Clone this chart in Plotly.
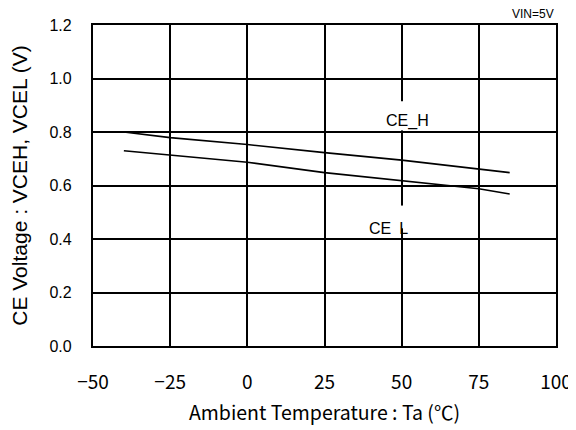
import plotly.graph_objects as go

# Data
temp_h = [-40, -25, 0, 10, 25, 50, 75, 85]
ce_h = [0.800, 0.779, 0.753, 0.740, 0.723, 0.695, 0.660, 0.648]
temp_l = [-40, -25, 0, 25, 50, 75, 85]
ce_l = [0.730, 0.713, 0.687, 0.648, 0.617, 0.588, 0.568]

x_ticks = [-50, -25, 0, 25, 50, 75, 100]
y_ticks = [0.0, 0.2, 0.4, 0.6, 0.8, 1.0, 1.2]

fig = go.Figure()
fig.add_trace(go.Scatter(x=temp_h, y=ce_h, mode="lines",
                         line=dict(color="black", width=1.6), name="CE_H",
                         showlegend=False))
fig.add_trace(go.Scatter(x=temp_l, y=ce_l, mode="lines",
                         line=dict(color="black", width=1.6), name="CE_L",
                         showlegend=False))

# white gaps in the 50 degC grid line behind the labels
fig.add_shape(type="rect", x0=48, x1=52, y0=0.806, y1=0.915,
              fillcolor="white", line=dict(width=0), layer="above")
fig.add_shape(type="rect", x0=48, x1=52, y0=0.44, y1=0.525,
              fillcolor="white", line=dict(width=0), layer="above")

lab_font = dict(family="Liberation Sans, Arial", size=16, color="black")
fig.add_annotation(x=50, y=0.842, text="CE_H", showarrow=False,
                   xanchor="center", yanchor="middle", xshift=6, font=lab_font)
fig.add_annotation(x=50, y=0.44, text="CE\u2002L", showarrow=False,
                   xanchor="center", yanchor="middle", xshift=-13, font=lab_font)
fig.add_annotation(xref="paper", yref="paper", x=1.0, y=1.0, yshift=2,
                   text="VIN=5V", showarrow=False, xanchor="right", yanchor="bottom",
                   font=dict(family="Liberation Sans, Arial", size=12, color="black"))

fig.update_xaxes(range=[-50, 100], tickvals=x_ticks,
                 ticktext=[str(v).replace("-", "\u2212") for v in x_ticks],
                 showgrid=True, gridcolor="black", gridwidth=1.5,
                 showline=True, linecolor="black", linewidth=2.2, mirror=True,
                 zeroline=False, ticks="", ticklabelstandoff=18, automargin=False,
                 tickfont=dict(family="Noto Sans CJK JP", size=19, color="black"),
                 title=dict(text="Ambient Temperature : Ta (\u2103)",
                            font=dict(family="Noto Sans CJK JP", size=19.5, color="black"),
                            standoff=13))
fig.update_yaxes(range=[0, 1.2], tickvals=y_ticks,
                 ticktext=[f"{v:.1f}" for v in y_ticks],
                 showgrid=True, gridcolor="black", gridwidth=1.5,
                 showline=True, linecolor="black", linewidth=2.2, mirror=True,
                 zeroline=False, ticks="", ticklabelstandoff=16, automargin=False,
                 tickfont=dict(family="Liberation Sans, Arial", size=16, color="black"),
                 title=dict(text="CE Voltage : VCEH, VCEL (V)",
                            font=dict(family="Liberation Sans, Arial", size=21, color="black"),
                            standoff=17))

# page body adds an 8px offset, so the figure is sized to fit the 576x430 window
fig.update_layout(width=568, height=422, margin=dict(l=85, r=20, t=17, b=84),
                  plot_bgcolor="white", paper_bgcolor="white", showlegend=False)

fig.write_html("out.html")
